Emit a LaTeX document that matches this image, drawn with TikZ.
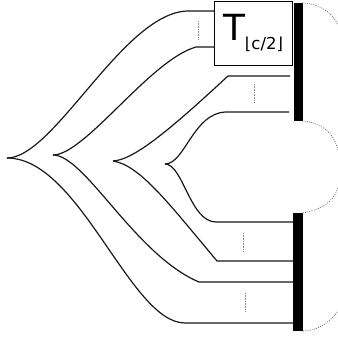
\documentclass[tikz,border=0pt]{standalone}
\usepackage{fontspec}
\setmainfont{DejaVu Sans}
\tikzset{
  wire/.style = {line width = 1.2pt, black!90},
  gap/.style = {line width = .7pt, dash pattern = on .8pt off .8pt, black!45},
  arc/.style = {line width = .6pt, dash pattern = on 1pt off 1.2pt, black!65},
  bar/.style = {fill = black, draw = none}
}
\begin{document}
\begin{tikzpicture}[x = 1pt, y = -1pt]
  \useasboundingbox (0, 0) rectangle (338, 337);
  \coordinate (rootA) at (7, 158);
  \coordinate (rootB) at (53, 155);
  \coordinate (rootC) at (113, 161);
  \coordinate (rootD) at (165, 164);
  \node (bank) [draw, line width = .9pt, minimum width = 78pt, minimum height = 64pt, inner sep = 0pt, outer sep = 0pt, font = \fontsize{36}{36}\selectfont] at (253, 33) {\raisebox{-7pt}{T\raisebox{-.26em}{\fontsize{16.5}{16.5}\selectfont ⌊c/2⌋}}};
  \node (topbar) [bar, minimum width = 9pt, minimum height = 118pt, inner sep = 0pt, outer sep = 0pt] at (298, 62) {};
  \node (lowbar) [bar, minimum width = 10pt, minimum height = 118pt, inner sep = 0pt, outer sep = 0pt] at (298, 272) {};
  \coordinate (a1) at (190, 11);
  \coordinate (a2) at (185, 323);
  \coordinate (b1) at (196, 47);
  \coordinate (b2) at (199, 282);
  \coordinate (c1) at (228, 76);
  \coordinate (c2) at (217, 261);
  \coordinate (d1) at (226, 112);
  \coordinate (d2) at (216, 222);
  \coordinate (t1) at (bank.west |- a1);
  \coordinate (t2) at (bank.west |- b1);
  \coordinate (t3) at (290, 76);
  \coordinate (t4) at (289, 112);
  \draw [wire] (rootA) .. controls (55, 158) and (125, 9) .. (a1) -- (t1);
  \draw [wire] (rootA) .. controls (80, 158) and (130, 323) .. (a2) -- (lowbar.west |- a2);
  \draw [wire] (rootB) .. controls (85, 155) and (150, 60) .. (b1) -- (t2);
  \draw [wire] (rootB) .. controls (85, 155) and (135, 255) .. (b2) -- (lowbar.west |- b2);
  \draw [wire] (rootC) .. controls (135, 160) and (175, 125) .. (c1) -- (t3);
  \draw [wire] (rootC) .. controls (140, 165) and (170, 205) .. (c2) -- (lowbar.west |- c2);
  \draw [wire] (rootD) .. controls (185, 164) and (193, 113) .. (d1) -- (t4);
  \draw [wire] (rootD) .. controls (183, 164) and (190, 222) .. (d2) -- (lowbar.west |- d2);
  \draw [gap] (198, 21) -- (198, 40);
  \draw [gap] (254, 84) -- (254, 103);
  \draw [gap] (243, 233) -- (243, 252);
  \draw [gap] (245, 293) -- (245, 312);
  \draw [arc] (topbar.north east) .. controls (318, 3) and (332, 12) .. (338, 25);
  \draw [arc] (topbar.south east) .. controls (318, 122) and (333, 130) .. (338, 150);
  \draw [arc] (lowbar.north east) .. controls (322, 209) and (334, 202) .. (338, 187);
  \draw [arc] (lowbar.south east) .. controls (318, 331) and (330, 322) .. (338, 311);
\end{tikzpicture}
\end{document}
